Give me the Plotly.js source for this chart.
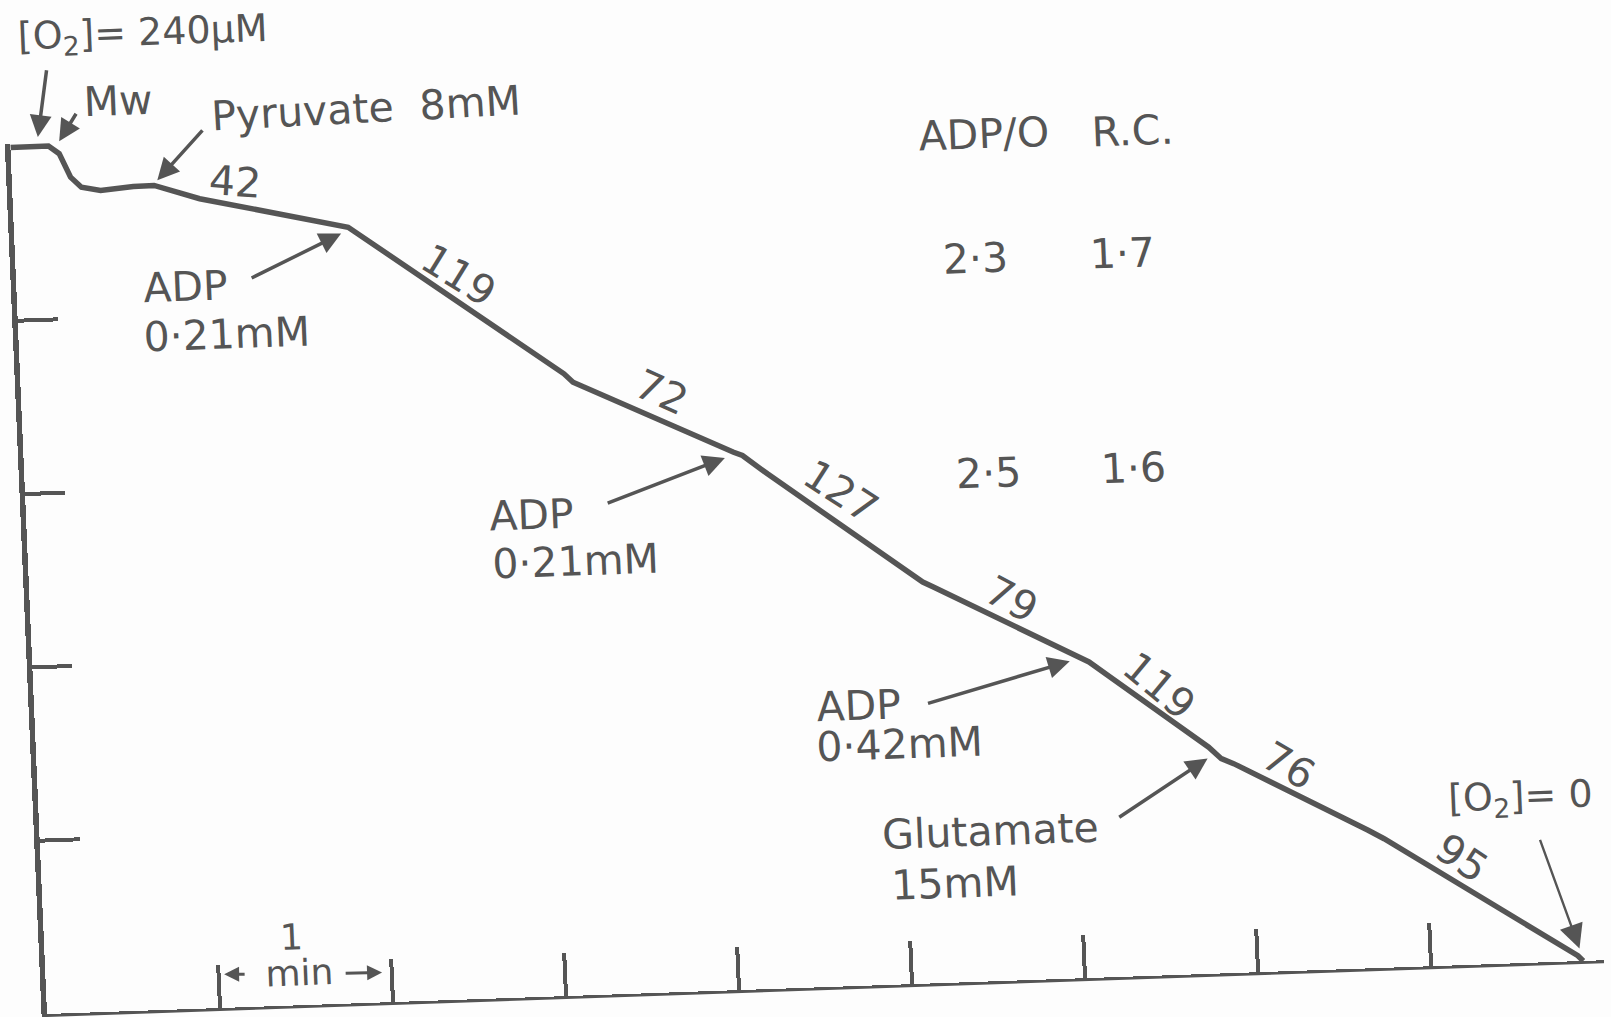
<!DOCTYPE html>
<html>
<head>
<meta charset="utf-8">
<script src="https://cdn.plot.ly/plotly-3.0.1.min.js"></script>
<style>
  html, body { margin:0; padding:0; background:#fdfdfd; overflow:hidden; }
  #chart { position:absolute; left:0; top:0; width:1611px; height:1017px;
           transform-origin: 47px 1014px;
           transform: matrix(0.9994, -0.0345, 0.0422, 0.9991, 0, 0); }
</style>
</head>
<body>
<div id="chart"></div>
<script>
// Oxygen-electrode trace: time (min) vs [O2] (µM)
const timeMin  = [0, 0.22, 0.28, 0.34, 0.40, 0.51, 0.70, 0.82, 1.08, 1.93, 3.14, 3.19, 4.10, 4.15, 4.29, 5.16, 5.22, 6.05, 6.10, 6.22, 6.77, 6.84, 6.91, 7.67, 7.76, 8.85, 8.88];
const oxygenUM = [240, 240, 237.8, 231.2, 228.3, 227.2, 228.0, 228.1, 224.0, 214.7, 172.1, 169.7, 148.8, 147.8, 142.5, 111.1, 109.6, 88.8, 87.4, 83.0, 62.7, 59.4, 57.9, 38.2, 35.7, 1.5, 0];

// respiration rates written along the trace
const rateLabels = ['42', '119', '72', '127', '79', '119', '76', '95'];
// ADP/O and respiratory control ratios
const adpOValues = ['2·3', '2·5'];
const rcValues   = ['1·7', '1·6'];
// additions
const additionNames = ['ADP', 'ADP', 'ADP', 'Glutamate'];
const additionConcs = ['0·21mM', '0·21mM', '0·42mM', '15mM'];
// axis ticks
const timeTicks = [1, 2, 3, 4, 5, 6, 7, 8, 9];
const o2Ticks = [48, 96, 144, 192];

const INK = '#555555';
const FONT = {family: 'DejaVu Sans, Verdana, sans-serif', size: 41, color: INK};
const FONT_O2 = Object.assign({}, FONT, {size: 38});
const Y_TOP = 241;            // top of the O2 axis range
const PX_PER_UM = 871 / Y_TOP; // plot height / range
const PX_PER_MIN = 1558 / 9;

function txt(text, x, y, opts) {
  return Object.assign({xref:'x', yref:'y', x:x, y:y, text:text, showarrow:false,
    font:FONT, xanchor:'center', yanchor:'middle'}, opts || {});
}
// text placed above the axis range: use paper coordinates for y
function txtTop(text, x, y, opts) {
  return txt(text, x, y / Y_TOP, Object.assign({yref:'paper'}, opts || {}));
}
function arrow(hx, hy, tx, ty, opts) {
  return Object.assign({xref:'x', yref:'y', axref:'x', ayref:'y', x:hx, y:hy, ax:tx, ay:ty,
    text:'', showarrow:true, arrowhead:2, arrowsize:1.25, arrowwidth:3.5, arrowcolor:INK,
    standoff:0, startstandoff:0}, opts || {});
}
function arrowTop(hx, hy, tx, ty) {
  return arrow(hx, hy / Y_TOP, 0, 0, {yref:'paper', axref:'pixel', ayref:'pixel',
    ax:(tx - hx) * PX_PER_MIN, ay:-(ty - hy) * PX_PER_UM});
}

const rateX = [1.291, 2.554, 3.698, 4.706, 5.669, 6.496, 7.229, 8.202];
const rateY = [228.2, 200.2, 165.9, 136.9, 105.4, 80.2, 56.8, 29.6];
const rateAng = [6, 34, 26, 35, 30, 42, 32, 36];

const annotations = [];
annotations.push(txtTop('[O<sub>2</sub>]= 240µM', 0.059, 270.0, {xanchor:'left', font:FONT_O2}));
annotations.push(txtTop('Mw', 0.635, 251.8));
annotations.push(txtTop('Pyruvate  8mM', 1.153, 247.5, {xanchor:'left', textangle:-1}));
rateLabels.forEach((r, i) => annotations.push(txt(r, rateX[i], rateY[i], {textangle: rateAng[i]})));
annotations.push(txt('ADP/O', 5.622, 234.4));
annotations.push(txt('R.C.', 6.483, 233.8));
annotations.push(txt(adpOValues[0], 5.545, 200.1));
annotations.push(txt(rcValues[0], 6.393, 200.1));
annotations.push(txt(adpOValues[1], 5.564, 140.6));
annotations.push(txt(rcValues[1], 6.401, 140.6));
const addX = [0.720, 2.661, 4.505, 4.853];
const addY = [199.8, 133.5, 77.5, 41.4];
const concX = [0.708, 2.667, 4.495, 4.894];
const concY = [186.2, 120.1, 66.4, 27.4];
additionNames.forEach((n, i) => {
  annotations.push(txt(n, addX[i], addY[i], {xanchor:'left'}));
  annotations.push(txt(additionConcs[i], concX[i], concY[i], {xanchor:'left'}));
});
annotations.push(txt('[O<sub>2</sub>]= 0', 8.128, 45.5, {xanchor:'left', font:FONT_O2}));
annotations.push(txt('1', 1.427, 18.9, {font:Object.assign({}, FONT, {size:36})}));
annotations.push(txt('min', 1.465, 8.9, {font:Object.assign({}, FONT, {size:36})}));

// arrows (head, tail)
annotations.push(arrowTop(0.161, 242.6, 0.229, 261.4));
annotations.push(arrowTop(0.283, 241.2, 0.393, 249.1));
annotations.push(arrow(0.840, 229.5, 1.121, 243.3));
annotations.push(arrow(1.888, 213.0, 1.352, 201.4));
annotations.push(arrow(4.048, 147.3, 3.352, 135.8));
annotations.push(arrow(5.989, 87.8, 5.152, 77.4));
annotations.push(arrow(6.761, 59.6, 6.228, 43.9));
annotations.push(arrow(8.861, 3.5, 8.657, 34.3, {arrowwidth:2.4, arrowsize:2.0}));
annotations.push(arrow(1.032, 9.3, 1.159, 9.1, {arrowwidth:3, arrowsize:1.0}));
annotations.push(arrow(1.944, 8.3, 1.725, 8.4, {arrowwidth:3, arrowsize:1.0}));

const trace = {
  x: timeMin, y: oxygenUM, type:'scatter', mode:'lines',
  line:{color:INK, width:5.5}, hoverinfo:'skip', showlegend:false
};

const layout = {
  width:1611, height:1017,
  margin:{l:47, r:6, t:143, b:3, pad:0},
  paper_bgcolor:'#fdfdfd', plot_bgcolor:'#fdfdfd',
  showlegend:false,
  xaxis:{range:[0, 9], showgrid:false, zeroline:false, showline:true, linecolor:INK, linewidth:5.5,
         ticks:'inside', tickvals:timeTicks, ticklen:43, tickwidth:4, tickcolor:INK,
         showticklabels:false, fixedrange:true},
  yaxis:{range:[0, Y_TOP], showgrid:false, zeroline:false, showline:true, linecolor:INK, linewidth:5.5,
         ticks:'inside', tickvals:o2Ticks, ticklen:40, tickwidth:4, tickcolor:INK,
         showticklabels:false, fixedrange:true},
  annotations: annotations
};

Plotly.newPlot('chart', [trace], layout, {displayModeBar:false, staticPlot:true});
</script>
</body>
</html>
